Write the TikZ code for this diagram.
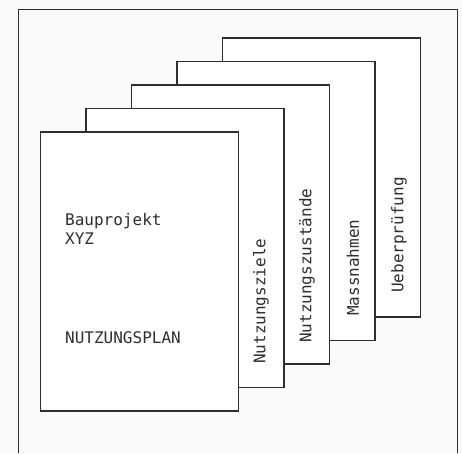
\documentclass[tikz,border=0pt]{standalone}
\usepackage{fontspec}
\setmonofont{DejaVu Sans Mono}
\usepackage{tikz}
\usetikzlibrary{positioning}

\definecolor{inkgray}{HTML}{2E2E2E}
\definecolor{paper}{HTML}{FAFAFA}

\begin{document}
\begin{tikzpicture}[
    % GLOBAL CFG
    x=1pt, y=-1pt,
    font=\ttfamily\fontsize{16}{19}\selectfont,
    % Styles
    frame/.style={% The outer border
        draw=inkgray,
        line width=0.9pt,
        },
    sheet/.style={% One page of the stack
        rectangle,
        draw=inkgray,
        fill=white,
        line width=1.2pt,
        minimum width=198pt,
        minimum height=279pt,
        inner sep=0pt,
        },
    tab/.style={% Vertical title on the visible strip
        rotate=90,
        anchor=west,
        inner sep=0pt,
        text=inkgray,
        },
    cover/.style={% Text on the front page
        anchor=base west,
        inner sep=0pt,
        text=inkgray,
        }
    ]

    % Background and outer frame
    \useasboundingbox (0,0) rectangle (462,453);
    \fill [paper] (0,0) rectangle (462,453);
    \draw [frame] (18,452.5) -- (18,9) -- (457,9) -- (457,452.5);

    % Draw the sheets, back to front, named sheet#
    \node [sheet] (sheet5) at (321.5,177.5) {};
    \node [sheet] (sheet4) at (276,201) {};
    \node [sheet] (sheet3) at (230.5,224.5) {};
    \node [sheet] (sheet2) at (185,248) {};
    \node [sheet] (sheet1) at (139.5,271.5) {};

    % Front page text
    \node [cover] (proj) at (65,225) {Bauprojekt};
    \node [cover] (xyz) at (65,244) {XYZ};
    \node [cover] (plan) at (65,343) {NUTZUNGSPLAN};

    % Titles on the strips, named tab#
    \node [tab] (tab2) at (261,364) {Nutzungsziele};
    \node [tab] (tab3) at (307,343) {Nutzungszustände};
    \node [tab] (tab4) at (353,316) {Massnahmen};
    \node [tab] (tab5) at (399,293) {Ueberprüfung};

\end{tikzpicture}
\end{document}
